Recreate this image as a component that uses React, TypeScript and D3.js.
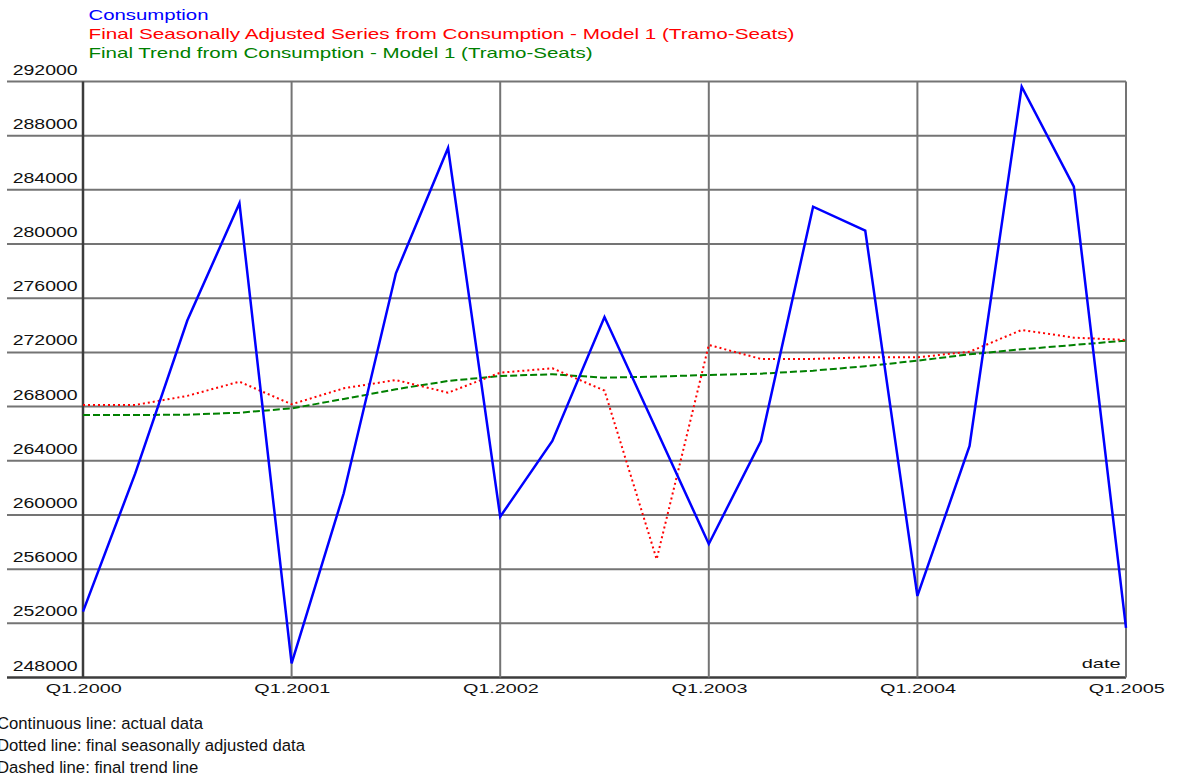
import React from "react";
import * as d3 from "d3";

// Quarterly periods from Q1.2000 to Q1.2005
const quarters: string[] = [
  "Q1.2000", "Q2.2000", "Q3.2000", "Q4.2000",
  "Q1.2001", "Q2.2001", "Q3.2001", "Q4.2001",
  "Q1.2002", "Q2.2002", "Q3.2002", "Q4.2002",
  "Q1.2003", "Q2.2003", "Q3.2003", "Q4.2003",
  "Q1.2004", "Q2.2004", "Q3.2004", "Q4.2004",
  "Q1.2005",
];

// Actual consumption
const consumption: number[] = [
  252860, 263050, 274350, 283010,
  249050, 261600, 277840, 287090,
  259870, 265460, 274610, 266250,
  257860, 265460, 282760, 280990,
  254020, 265090, 291620, 284240,
  251660,
];

// Final seasonally adjusted series
const seasonallyAdjusted: number[] = [
  268120, 268120, 268790, 269840,
  268170, 269350, 269960, 269030,
  270500, 270830, 269180, 256730,
  272550, 271520, 271520, 271640,
  271640, 272050, 273660, 273090,
  272920,
];

// Final trend
const trend: number[] = [
  267380, 267380, 267400, 267550,
  267870, 268560, 269280, 269890,
  270260, 270385, 270135, 270220,
  270330, 270430, 270650, 270980,
  271390, 271860, 272230, 272550,
  272870,
];

const xTickLabels: string[] = ["Q1.2000", "Q1.2001", "Q1.2002", "Q1.2003", "Q1.2004", "Q1.2005"];
const yTicks: number[] = d3.range(248000, 292001, 4000);

const legendItems: { label: string; color: string; width: number }[] = [
  { label: "Consumption", color: "#0000ff", width: 120 },
  { label: "Final Seasonally Adjusted Series from Consumption - Model 1 (Tramo-Seats)", color: "#ff0000", width: 706 },
  { label: "Final Trend from Consumption - Model 1 (Tramo-Seats)", color: "#008000", width: 504 },
];

const notes: string[] = [
  "Continuous line: actual data",
  "Dotted line: final seasonally adjusted data",
  "Dashed line: final trend line",
];

const W = 1177;
const H = 780;
const left = 83;
const right = 1126;
const top = 81.5;
const bottom = 677.5;
const font = "'Liberation Sans', Arial, Helvetica, sans-serif";

export default function App() {
  const x = d3.scalePoint<string>().domain(quarters).range([left, right]);
  const y = d3.scaleLinear().domain([248000, 292000]).range([bottom, top]);

  const line = d3
    .line<number>()
    .x((_, i) => x(quarters[i]) as number)
    .y((d) => y(d));

  const gridColor = "#747474";
  const axisColor = "#3c3c3c";

  return (
    <svg
      width={W}
      height={H}
      style={{ position: "absolute", left: 0, top: 0, background: "#fff" }}
      fontFamily={font}
    >
      <rect x={0} y={0} width={W} height={H} fill="#fff" />

      {/* horizontal grid lines, running out under the value labels */}
      {yTicks.map((t) => (
        <line
          key={"h" + t}
          x1={7}
          x2={right}
          y1={y(t)}
          y2={y(t)}
          stroke={t === 248000 ? axisColor : gridColor}
          strokeWidth={t === 248000 ? 2.5 : 2}
        />
      ))}

      {/* vertical grid lines at each first quarter */}
      {xTickLabels.map((q) => (
        <line
          key={"v" + q}
          x1={x(q)}
          x2={x(q)}
          y1={top}
          y2={bottom}
          stroke={q === "Q1.2000" ? axisColor : gridColor}
          strokeWidth={q === "Q1.2000" ? 2.5 : 2}
        />
      ))}

      {/* value labels */}
      {yTicks.map((t) => (
        <text
          key={"yl" + t}
          x={77.7}
          y={y(t) - 7}
          textAnchor="end"
          fontSize={14}
          textLength={65}
          lengthAdjust="spacingAndGlyphs"
          fill="#111"
        >
          {t}
        </text>
      ))}

      {/* period labels */}
      {xTickLabels.map((q) => (
        <text
          key={"xl" + q}
          x={(x(q) as number) + 0.7}
          y={693}
          textAnchor="middle"
          fontSize={13}
          textLength={76}
          lengthAdjust="spacingAndGlyphs"
          fill="#111"
        >
          {q}
        </text>
      ))}

      <text
        x={1120.7}
        y={668}
        textAnchor="end"
        fontSize={13}
        textLength={39}
        lengthAdjust="spacingAndGlyphs"
        fill="#111"
      >
        date
      </text>

      {/* series */}
      <path d={line(trend) ?? ""} fill="none" stroke="#008000" strokeWidth={2} strokeDasharray="7 3" />
      <path d={line(seasonallyAdjusted) ?? ""} fill="none" stroke="#ff0000" strokeWidth={2} strokeDasharray="2 3" />
      <path d={line(consumption) ?? ""} fill="none" stroke="#0000ff" strokeWidth={2.5} strokeLinejoin="miter" />

      {/* legend */}
      {legendItems.map((item, i) => (
        <text
          key={"lg" + i}
          x={88.5}
          y={19.5 + i * 19.3}
          fontSize={15}
          textLength={item.width}
          lengthAdjust="spacingAndGlyphs"
          fill={item.color}
        >
          {item.label}
        </text>
      ))}

      {/* line style notes */}
      {notes.map((n, i) => (
        <text key={"n" + i} x={-3} y={729 + i * 21.8} fontSize={16.7} fill="#111">
          {n}
        </text>
      ))}
    </svg>
  );
}
